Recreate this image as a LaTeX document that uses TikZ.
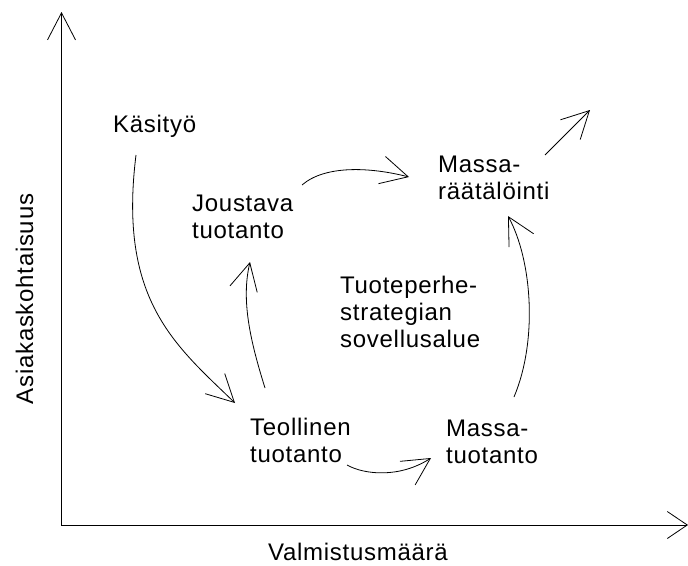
\documentclass[tikz,border=0pt]{standalone}
\usepackage{fontspec}
\setmainfont{Liberation Sans}[LetterSpace=3]
\usetikzlibrary{arrows.meta,calc}
\begin{document}
\begin{tikzpicture}[x=1pt,y=-1pt,
  lbl/.style={font=\fontsize{24}{27}\selectfont, inner sep=0pt, align=left, anchor=base west},
  axlbl/.style={font=\fontsize{24}{27}\selectfont, inner sep=0pt, anchor=base},
  flow/.style={line width=0.8pt, -{Straight Barb[length=27pt,width=28pt,line width=0.8pt]}},
  axis/.style={line width=0.8pt}]
\useasboundingbox (0,0) rectangle (688,565);

% axes
\coordinate (O) at (61.5,525);
\coordinate (ytop) at (61.5,12);
\coordinate (xend) at (688,525);
\draw[axis,{Straight Barb[length=27pt,width=28pt,line width=0.8pt]}-{Straight Barb[length=20pt,width=27pt,line width=0.8pt]}]
  (ytop) -- (O) -- (xend);
\node[axlbl] (xlab) at (358,560) {Valmistusmäärä};
\node[axlbl,rotate=90] (ylab) at (33,299) {Asiakaskohtaisuus};

% production modes (positions are the baselines of the last lines)
\node[lbl] (kasi)  at (113,132) {Käsityö};
\node[lbl] (jous)  at (192,238) {Joustava\\tuotanto};
\node[lbl] (mrat)  at (438,199) {Massa-\\räätälöinti};
\node[lbl] (tuote) at (340,347) {Tuoteperhe-\\strategian\\sovellusalue};
\node[lbl] (teol)  at (250,462) {Teollinen\\tuotanto};
\node[lbl] (mtuo)  at (446,463) {Massa-\\tuotanto};
\coordinate (onward) at (590,110);

% transitions
\draw[flow] ([shift={(23,23)}]kasi.base west) .. controls +(-18,145) and +(-60,-58) .. ([shift={(-15,-59)}]teol.base west);
\draw[flow] ([shift={(15,-74)}]teol.base west) .. controls +(-15,-48) and +(-9,38) .. ([shift={(58,24)}]jous.base west);
\draw[flow] ([shift={(110,-53)}]jous.base west) .. controls +(23,-20) and +(-39,-10) .. ([shift={(-29,-22)}]mrat.base west);
\draw[flow] ([shift={(68,-66)}]mtuo.base west) .. controls +(24,-57) and +(24,44) .. ([shift={(70,17)}]mrat.base west);
\draw[flow] ([shift={(97,3)}]teol.base west) .. controls +(18,10) and +(-31,20) .. ([shift={(-15,-5)}]mtuo.base west);
\draw[flow] ([shift={(107,-44)}]mrat.base west) -- (onward);
\end{tikzpicture}
\end{document}
